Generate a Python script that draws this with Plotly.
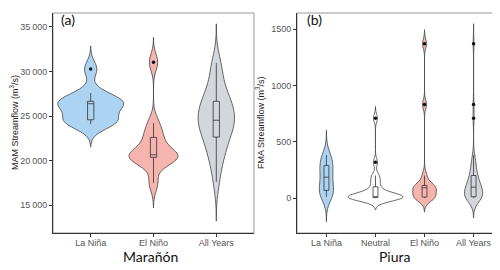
import numpy as np
import plotly.graph_objects as go

# ---------------- data ----------------
maranon_cats = ["La Niña", "El Niño", "All Years"]
maranon_lanina = [24100, 24300, 24500, 24650, 25800, 26380, 26450, 26600, 26700, 27580, 30280]
maranon_elnino = [17470, 19800, 20300, 20420, 20550, 20650, 20800, 22300, 22900, 24210, 31030]
maranon_all = [17600, 19600, 20500, 21300, 22100, 22640, 23200, 23700, 24000, 24300, 24520,
               25100, 25500, 25800, 26200, 26650, 27100, 27800, 28600, 30200, 30960]

piura_cats = ["La Niña", "Neutral", "El Niño", "All Years"]
piura_lanina = [9, 30, 60, 76, 130, 185, 220, 270, 306, 340, 382]
piura_neutral = [0, 0, 1, 2, 3, 4, 5, 6, 8, 10, 12, 18, 25, 40, 60, 100, 130, 175, 200, 317, 708]
piura_elnino = [0, 3, 6, 9, 40, 75, 91, 100, 106, 112, 200, 830, 1370]
piura_all = [0, 0, 1, 2, 3, 4, 5, 6, 8, 9, 10, 12, 18, 25, 30, 40, 55, 62, 75, 80, 88, 92, 97,
             100, 104, 108, 112, 125, 135, 150, 165, 180, 190, 200, 210, 225, 250, 275, 300,
             317, 340, 382, 708, 830, 1370]

maranon_ticks = [15000, 20000, 25000, 30000, 35000]
maranon_ticktext = ["15\u2009000", "20\u2009000", "25\u2009000", "30\u2009000", "35\u2009000"]
piura_ticks = [0, 500, 1000, 1500]
piura_ticktext = ["0", "500", "1000", "1500"]

# ---------------- styling ----------------
BLUE = "#acd3f2"
PINK = "#f5b4ad"
GREY = "#d3d6db"
WHITE = "#ffffff"
TICKFONT = dict(family="Liberation Sans, Arial", size=9, color="#555555")


def nrd0(v):
    v = np.asarray(v, float)
    sd = v.std(ddof=1)
    q75, q25 = np.percentile(v, [75, 25])
    lo = min(sd, (q75 - q25) / 1.34)
    return 0.9 * lo * len(v) ** -0.2


fig = go.Figure()


def add_violin(cat, vals, fill, width, xa, ya):
    bw = nrd0(vals)
    fig.add_trace(go.Violin(
        x=[cat] * len(vals), y=vals, xaxis=xa, yaxis=ya,
        fillcolor=fill, line=dict(color="#444444", width=0.8), opacity=1,
        bandwidth=bw, spanmode="manual", span=[min(vals) - 3 * bw, max(vals) + 3 * bw],
        scalemode="width", width=width,
        box=dict(visible=True, width=0.1 / width, fillcolor="rgba(0,0,0,0)",
                 line=dict(color="#333333", width=0.8)),
        meanline=dict(visible=False),
        points="outliers", pointpos=0, jitter=0,
        marker=dict(color="#111111", size=3.5, line=dict(width=0)),
        quartilemethod="inclusive", showlegend=False, hoverinfo="skip"))


add_violin(maranon_cats[0], maranon_lanina, BLUE, 1.05, "x", "y")
add_violin(maranon_cats[1], maranon_elnino, PINK, 0.78, "x", "y")
add_violin(maranon_cats[2], maranon_all, GREY, 0.58, "x", "y")

add_violin(piura_cats[0], piura_lanina, BLUE, 0.29, "x2", "y2")
add_violin(piura_cats[1], piura_neutral, WHITE, 1.12, "x2", "y2")
add_violin(piura_cats[2], piura_elnino, PINK, 0.48, "x2", "y2")
add_violin(piura_cats[3], piura_all, GREY, 0.37, "x2", "y2")

ydom = [45 / 270, 265 / 270]
axis_common = dict(showgrid=False, zeroline=False, showline=True, linecolor="#333333",
                   linewidth=1, ticks="outside", ticklen=3, tickcolor="#333333",
                   tickwidth=0.8, tickfont=TICKFONT)

fig.update_layout(
    width=500, height=270, margin=dict(l=0, r=0, t=0, b=0),
    paper_bgcolor="white", plot_bgcolor="white", violinmode="overlay",
    xaxis=dict(domain=[45 / 500, 246 / 500], type="category", categoryorder="array",
               categoryarray=maranon_cats, range=[-0.6, 2.6], anchor="y",
               ticklabelstandoff=-2, **axis_common),
    yaxis=dict(domain=ydom, range=[11860, 36570], tickvals=maranon_ticks,
               ticktext=maranon_ticktext, anchor="x", **axis_common),
    xaxis2=dict(domain=[289 / 500, 495 / 500], type="category", categoryorder="array",
                categoryarray=piura_cats, range=[-0.6, 3.6], anchor="y2",
                ticklabelstandoff=-2, **axis_common),
    yaxis2=dict(domain=ydom, range=[-310, 1642], tickvals=piura_ticks,
                ticktext=piura_ticktext, anchor="x2", **axis_common),
)

for xr, yr in (("x", "y"), ("x2", "y2")):
    fig.add_shape(type="rect", xref=f"{xr} domain", yref=f"{yr} domain",
                  x0=0, x1=1, y0=0, y1=1, line=dict(color="#999999", width=1),
                  layer="below")

LABELFONT = dict(family="Lato, Open Sans", color="#111111")
annos = [
    dict(text="(a)", x=60 / 500, y=1 - 12 / 270, font=dict(size=14, **LABELFONT)),
    dict(text="(b)", x=306 / 500, y=1 - 12 / 270, font=dict(size=14, **LABELFONT)),
    dict(text="Marañón", x=142 / 500, y=1 - 248 / 270, font=dict(size=14, **LABELFONT)),
    dict(text="Piura", x=387 / 500, y=1 - 248 / 270, font=dict(size=14, **LABELFONT)),
    dict(text="MAM Streamflow (m<sup>3</sup>/s)", x=6 / 500, y=1 - 115 / 270, textangle=-90,
         font=dict(family="Liberation Sans, Arial", size=9, color="#222222")),
    dict(text="FMA Streamflow (m<sup>3</sup>/s)", x=252 / 500, y=1 - 115 / 270, textangle=-90,
         font=dict(family="Liberation Sans, Arial", size=9, color="#222222")),
]
for a in annos:
    fig.add_annotation(xref="paper", yref="paper", showarrow=False,
                       xanchor="center", yanchor="middle", **a)

fig.write_html("out.html")
